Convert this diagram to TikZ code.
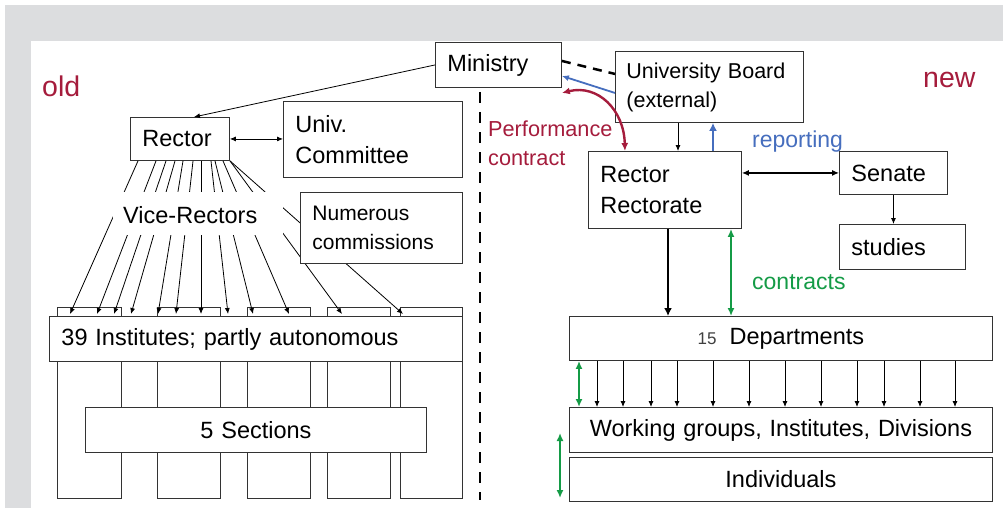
\documentclass[tikz,border=0pt]{standalone}
\usepackage{fontspec}
\setmainfont{Liberation Sans}
\usetikzlibrary{arrows.meta}
\definecolor{crimson}{RGB}{165,28,60}
\definecolor{repblue}{RGB}{70,110,190}
\definecolor{congreen}{RGB}{20,155,70}
\definecolor{slidegray}{RGB}{220,221,223}
\newcommand\boxfont{\fontsize{23.5}{31}\selectfont}
\newcommand\labfont{\fontsize{23}{29}\selectfont}
\tikzset{
  box/.style={draw=black!80, line width=0.9pt, fill=white, anchor=north west,
    inner xsep=12pt, inner ysep=0pt, align=left, font=\boxfont},
  cbox/.style={box, align=center},
  col/.style={draw=black!80, line width=0.9pt},
  thin/.style={line width=0.8pt, -{Latex[length=6pt,width=5pt]}},
  fat/.style={line width=2.6pt, -{Latex[length=8pt,width=8pt]}},
}
\begin{document}
\begin{tikzpicture}[x=1pt,y=-1pt]
\useasboundingbox (0,0) rectangle (1003,508);
% slide background
\fill[slidegray] (5,5) rectangle (1003,508);
\fill[white] (31,41) rectangle (1003,508);

% old structure
\foreach \a/\b in {57/121,157/220,247/310,327/390,400/462}
  \draw[col] (\a,307) rectangle (\b,498);
\node[box, minimum width=126pt, minimum height=45pt, text width=102pt] (min) at (435,42) {Ministry};
\node[box, minimum width=99pt, minimum height=43pt, text width=75pt] (rold) at (130,117) {Rector};
\node[box, minimum width=179pt, minimum height=76pt, text width=155pt] (ucom) at (283,101) {Univ.\\Committee};
\node[box, minimum width=413pt, minimum height=45pt, text width=389pt] (inst) at (49,316) {39 Institutes; partly autonomous};
\node[cbox, minimum width=341pt, minimum height=45pt, text width=317pt] (sect) at (85,407) {5 Sections};

\draw[thin] (min.west) -- ([xshift=14pt]rold.north);
\draw[line width=0.8pt, {Latex[length=6pt,width=5pt]}-{Latex[length=6pt,width=5pt]}] (rold.east) -- (ucom.west |- rold.east);
\foreach \a/\b in {138/70,156/97,166/114,175/131,183/158,193/176,201/201,211/228,215/253,223/289,230/342,230/403}
  \draw[thin] (\a,0 |- rold.south) -- (\b,314);
\fill[white] (113,192) rectangle (283,235);
\node[font=\boxfont, anchor=base west, inner sep=0pt] (vr) at (123,223) {Vice-Rectors};
\node[box, font=\fontsize{21}{29}\selectfont, minimum width=162pt, minimum height=71pt, text width=138pt] (ncom) at (300,192) {Numerous\\commissions};
\node[font=\fontsize{28.5}{32}\selectfont, text=crimson, anchor=base west, inner sep=0pt] (old) at (42,97) {old};

% divider
\draw[line width=2.5pt, dash pattern=on 11pt off 9pt] (480,92) -- (480,500);

% new structure
\node[box, font=\fontsize{21.5}{29}\selectfont, minimum width=188pt, minimum height=71pt, text width=170pt, inner xsep=9pt] (ub) at (615,51) {\hspace*{2pt}University Board\\\hspace*{2pt}(external)};
\node[box, minimum width=153pt, minimum height=77pt, text width=129pt] (rnew) at (588,151) {Rector\\Rectorate};
\node[box, minimum width=108pt, minimum height=43pt, text width=84pt] (sen) at (839,151) {Senate};
\node[box, minimum width=126pt, minimum height=45pt, text width=102pt] (stu) at (839,224) {studies};
\node[cbox, minimum width=423pt, minimum height=44pt, text width=399pt] (dep) at (569,316) {{\fontsize{17}{20}\selectfont\color{black!75}15}\hspace{13pt}Departments};
\node[cbox, minimum width=423pt, minimum height=45pt, text width=399pt] (wg) at (569,407) {Working groups, Institutes, Divisions};
\node[cbox, minimum width=423pt, minimum height=44pt, text width=399pt] (ind) at (569,457) {Individuals};
\node[font=\fontsize{28.5}{32}\selectfont, text=crimson, anchor=base west, inner sep=0pt] (new) at (923,88) {new};

\draw[line width=2.5pt, dash pattern=on 9pt off 7pt] ([yshift=4pt]min.east) -- ([yshift=13pt]ub.west);
\draw[repblue, line width=1.8pt, -{Latex[length=7pt,width=6pt]}] ([yshift=-6pt]ub.west) -- ([yshift=-11pt]min.east);
\draw[crimson, line width=2.4pt, {Latex[length=8pt,width=7pt]}-{Latex[length=8pt,width=7pt]}]
  ([yshift=-28pt]min.east) .. controls (598,84) and (624,110) .. ([xshift=-40pt]rnew.north);
\node[font=\fontsize{21.7}{29}\selectfont, text=crimson, align=left, anchor=north west, inner sep=0pt] (perf) at (488,121) {Performance\\contract};

\draw[thin] (678,0 |- ub.south) -- (678,0 |- rnew.north);
\draw[repblue, fat] (713,0 |- rnew.north) -- (713,0 |- ub.south);
\node[font=\labfont, text=repblue, anchor=base west, inner sep=0pt] (rep) at (752,147) {reporting};
\draw[line width=1.2pt, {Latex[length=7pt,width=6pt]}-{Latex[length=7pt,width=6pt]}] (rnew.east |- sen.west) -- (sen.west);
\draw[thin] (sen.south) -- (sen.south |- stu.north);

\draw[fat] (668,0 |- rnew.south) -- (668,0 |- dep.north);
\draw[congreen, line width=2.4pt, {Latex[length=8pt,width=7pt]}-{Latex[length=8pt,width=7pt]}] (731,0 |- rnew.south) -- (731,0 |- dep.north);
\node[font=\labfont, text=congreen, anchor=base west, inner sep=0pt] (con) at (752,289) {contracts};

\foreach \a in {597,623,651,677,713,749,785,821,857,884,920,955}
  \draw[thin] (\a,0 |- dep.south) -- (\a,0 |- wg.north);
\draw[congreen, line width=2.4pt, {Latex[length=8pt,width=7pt]}-{Latex[length=8pt,width=7pt]}] (579,0 |- dep.south) -- (579,0 |- wg.north);
\coordinate (g1) at (560,433);
\coordinate (g2) at (560,498);
\draw[congreen, line width=2.4pt, {Latex[length=8pt,width=7pt]}-{Latex[length=8pt,width=7pt]}] (g1) -- (g2);
\end{tikzpicture}
\end{document}
